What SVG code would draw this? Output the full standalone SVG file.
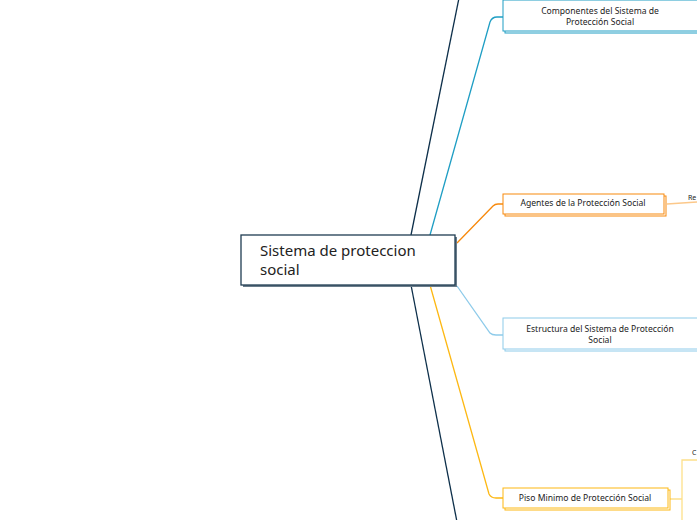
<svg xmlns="http://www.w3.org/2000/svg" width="697" height="520" viewBox="0 0 697 520">
<style>
.t{font-family:"Noto Sans",sans-serif;font-size:8.6px;fill:#222;text-anchor:middle}
.c{fill:none;stroke-width:1.3}
</style>
<rect width="697" height="520" fill="#fff"/>
<g id="connectors">
<path class="c" stroke="#0d2f4a" d="M411 235 L459 -2"/>
<path class="c" stroke="#0d2f4a" d="M411 285 L457 522"/>
<path class="c" stroke="#1f9ec4" d="M430 235 L490 22 Q492 17 497 17 L503 17"/>
<path class="c" stroke="#f7890c" d="M457 243 L493 206 Q495 204 498 204 L503 204"/>
<path class="c" stroke="#8ecbea" d="M457 286 L490 333 Q492 335 496 335 L503 335"/>
<path class="c" stroke="#fdb813" d="M430 285 L489 494 Q491 498 496 498 L503 498"/>
<path class="c" stroke="#fcc88a" d="M667 204 L697 202"/>
<path class="c" stroke="#fde08a" d="M670 499 L682 499 M697 460 L682 460 L682 522"/>
</g>
<g id="root">
<rect x="243" y="237" width="214" height="50" fill="#6a7c8a"/>
<rect x="241" y="235" width="214" height="50" fill="#fff" stroke="#1f3c52" stroke-width="1.3"/>
<text x="260" y="256" style="font-family:'Noto Sans',sans-serif;font-size:15px;fill:#222">Sistema de proteccion</text>
<text x="260" y="275" style="font-family:'Noto Sans',sans-serif;font-size:15px;fill:#222">social</text>
</g>
<g id="n1">
<rect x="505" y="2" width="195" height="31" fill="#fff" stroke="#1f9ec4"/>
<rect x="503" y="0" width="195" height="31" fill="#fff" stroke="#1f9ec4"/>
<text class="t" x="600" y="14">Componentes del Sistema de</text>
<text class="t" x="600" y="25">Protección Social</text>
</g>
<g id="n2">
<rect x="505" y="196" width="161" height="20" fill="#fff" stroke="#f7890c"/>
<rect x="503" y="194" width="161" height="20" fill="#fff" stroke="#f7890c"/>
<text class="t" x="583" y="206">Agentes de la Protección Social</text>
<text style="font-family:'Noto Sans',sans-serif;font-size:7px;fill:#222" x="688" y="200">Re</text>
</g>
<g id="n3">
<rect x="505" y="320" width="195" height="31" fill="#fff" stroke="#8ecbea"/>
<rect x="503" y="318" width="195" height="31" fill="#fff" stroke="#8ecbea"/>
<text class="t" x="600" y="332">Estructura del Sistema de Protección</text>
<text class="t" x="600" y="343">Social</text>
</g>
<g id="n4">
<rect x="505" y="490" width="165" height="20" fill="#fff" stroke="#fdb813"/>
<rect x="503" y="488" width="165" height="20" fill="#fff" stroke="#fdb813"/>
<text class="t" x="585" y="501">Piso Minimo de Protección Social</text>
<text style="font-family:'Noto Sans',sans-serif;font-size:7px;fill:#222" x="692" y="455">C</text>
</g>
</svg>
